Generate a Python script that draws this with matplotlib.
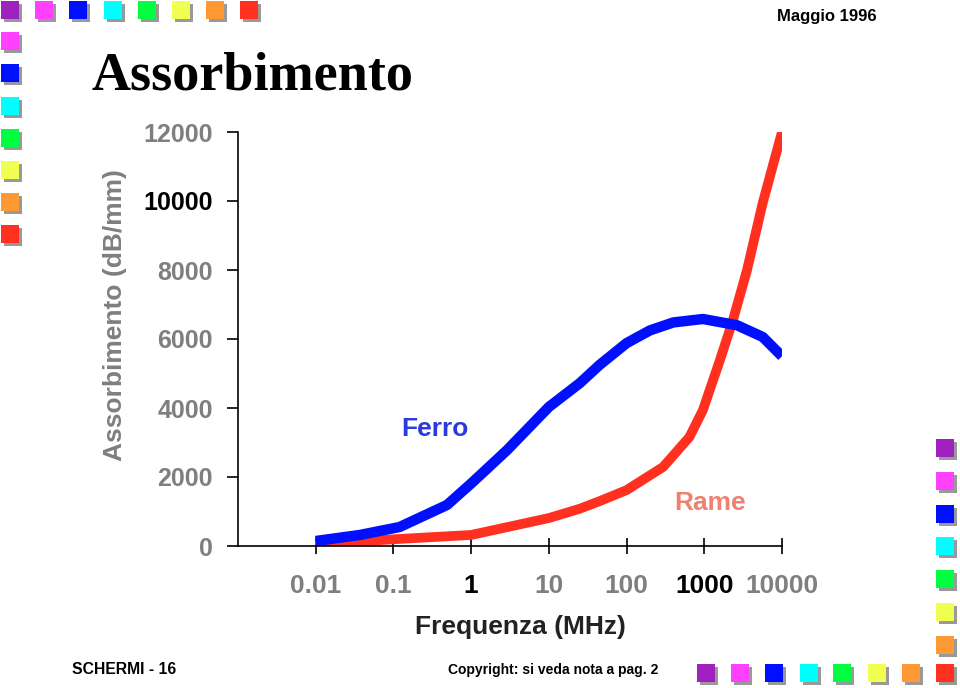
import matplotlib
matplotlib.use("Agg")
import matplotlib.pyplot as plt
from matplotlib.patches import Rectangle

# data
ferro_f = [0.01, 0.037, 0.12, 0.49, 1.05, 2.9, 10, 25, 45, 100, 200, 400, 960, 2630, 5640, 10000]
ferro_a = [145, 320, 550, 1190, 1855, 2780, 4030, 4720, 5250, 5880, 6250, 6480, 6580, 6400, 6060, 5500]
rame_f = [0.01, 0.017, 0.11, 1, 10, 25, 45, 100, 295, 645, 960, 1590, 2340, 3550, 5640, 10000]
rame_a = [0, 90, 200, 320, 810, 1080, 1300, 1620, 2290, 3160, 3940, 5390, 6550, 8000, 9940, 12000]

yticks = [0, 2000, 4000, 6000, 8000, 10000, 12000]
xticks = [0.01, 0.1, 1, 10, 100, 1000, 10000]
xlabels = ["0.01", "0.1", "1", "10", "100", "1000", "10000"]

square_colors = ["#A020C0", "#FF40FF", "#0010FF", "#00FFFF", "#00FF40", "#F0FF50", "#FF9933", "#FF3020"]

plt.rcParams['font.family'] = ['Liberation Sans', 'DejaVu Sans']
gray = "#7f7f7f"

fig = plt.figure(figsize=(9.6, 6.88), dpi=100)

# decorative squares in pixel coordinates
deco = fig.add_axes([0, 0, 1, 1])
deco.set_xlim(0, 960)
deco.set_ylim(688, 0)
deco.axis("off")

def square(x, y, c):
    deco.add_patch(Rectangle((x + 3, y + 3), 18, 18, color="#999999", lw=0))
    deco.add_patch(Rectangle((x, y), 18, 18, color=c, lw=0))

top_x = [1, 35, 69, 104, 138, 172, 206, 240]
for x, c in zip(top_x, square_colors):
    square(x, 1, c)
left_y = [32, 64, 97, 129, 161, 193, 225]
for y, c in zip(left_y, square_colors[1:]):
    square(1, y, c)
right_y = [439, 472, 505, 537, 570, 603, 636]
for y, c in zip(right_y, square_colors[:7]):
    square(936, y, c)
bottom_x = [697, 731, 765, 800, 833, 868, 902, 936]
for x, c in zip(bottom_x, square_colors):
    square(x, 664, c)

ax = fig.add_axes([238 / 960, 1 - 546 / 688, 544 / 960, 414 / 688])
ax.plot(rame_f, rame_a, color="#FF3020", lw=7, solid_capstyle="butt", solid_joinstyle="round")
ax.plot(ferro_f, ferro_a, color="#0010FF", lw=7.5, solid_capstyle="butt", solid_joinstyle="round")

ax.set_xscale("log")
ax.set_xlim(0.001, 10000)
ax.set_ylim(0, 12000)
ax.spines[["top", "right"]].set_visible(False)
ax.spines["left"].set_linewidth(1.2)
ax.spines["bottom"].set_linewidth(1.2)
ax.set_xticks(xticks)
ax.set_xticklabels(xlabels)
ax.minorticks_off()
ax.set_yticks(yticks)
ax.set_yticklabels([str(v) for v in yticks])
ax.tick_params(axis="x", direction="inout", length=12, width=1.2, pad=14, labelsize=19)
ax.tick_params(axis="y", direction="out", length=8, width=1.2, pad=10, labelsize=18)
for lab in ax.get_xticklabels() + ax.get_yticklabels():
    lab.set_fontweight("bold")
    lab.set_color(gray)
for i in (2, 5):
    ax.get_xticklabels()[i].set_color("black")
ax.get_yticklabels()[5].set_color("black")

ax.set_xlabel("Frequenza (MHz)", fontsize=19, fontweight="bold", color="#222222")
ax.xaxis.set_label_coords(0.52, -0.166)
ax.set_ylabel("Assorbimento (dB/mm)", fontsize=19, fontweight="bold", color=gray)
ax.yaxis.set_label_coords(-0.204, 0.558)

ax.text(0.34, 3400, "Ferro", color="#2a3ae0", fontsize=19, fontweight="bold", ha="center", va="center")
ax.text(1200, 1250, "Rame", color="#F08070", fontsize=19, fontweight="bold", ha="center", va="center")

fig.text(92 / 960, 1 - 77 / 688, "Assorbimento", family="Liberation Serif", fontsize=39,
         fontweight="bold", va="center", ha="left")
fig.text(827 / 960, 1 - 17 / 688, "Maggio 1996", fontsize=12, fontweight="bold", va="center", ha="center")
fig.text(124 / 960, 1 - 670 / 688, "SCHERMI - 16", fontsize=11.3, fontweight="bold", va="center", ha="center")
fig.text(553 / 960, 1 - 670 / 688, "Copyright: si veda nota a pag. 2", fontsize=10, fontweight="bold",
         va="center", ha="center")

fig.savefig("out.png", dpi=100)
